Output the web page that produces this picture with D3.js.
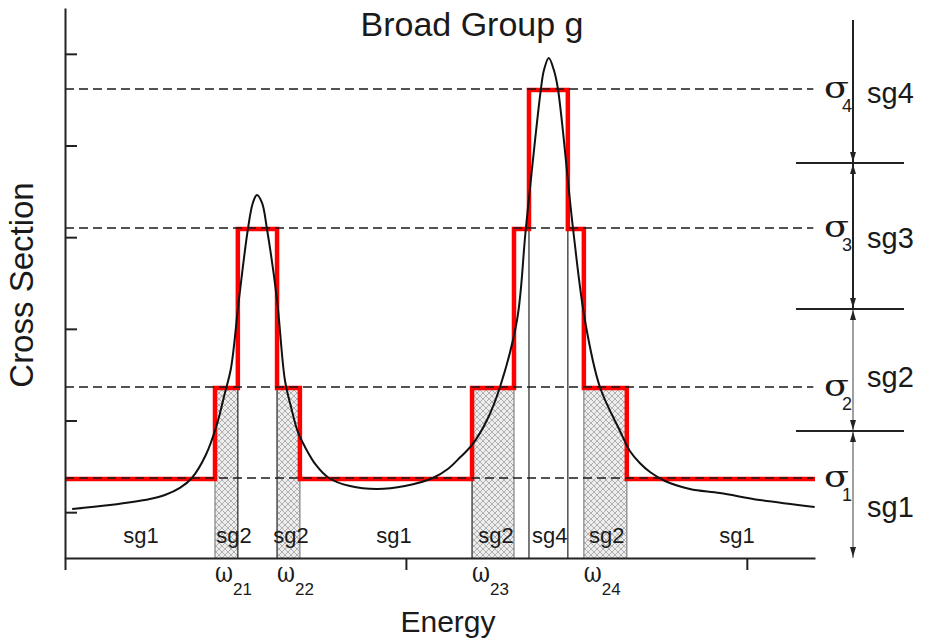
<!DOCTYPE html>
<html>
<head>
<meta charset="utf-8">
<script src="https://cdn.jsdelivr.net/npm/d3@7"></script>
<style>
  body { margin: 0; background: #fff; }
  text { font-family: "Liberation Sans", Arial, sans-serif; fill: #1a1a1a; }
  .greek { font-family: "DejaVu Serif", "Liberation Serif", serif; }
</style>
</head>
<body>
<div id="chart"></div>
<script>
// sub-group (resonance) picture inside one broad group

const width = 925, height = 642;

// axis ticks
const energyTicks = [0, 1, 2];
const sectionTicks = [0.5, 1.5, 2.5, 3.5, 4.5, 5.5];

// sub-group cross sections sigma1..sigma4
const sigmaNames = ["1", "2", "3", "4"];
const sigmaLevels = [0.873, 1.865, 3.6, 5.116];

// sub-group bounds on the right arrow
const subNames = ["sg1", "sg2", "sg3", "sg4"];
const subBounds = [0, 1.385, 2.716, 4.309, 5.869];
const subLabelY = [0.45, 1.865, 3.38, 4.96];

// step approximation (index into sigmaLevels for each interval)
const stepEdges = [0, 0.440, 0.507, 0.622, 0.689, 1.194, 1.317, 1.361, 1.475, 1.522, 1.648, 2.2];
const stepLevel = [0, 1, 2, 1, 0, 1, 2, 3, 2, 1, 0];

// hatched sg2 intervals, weights omega_2k
const omegaNames = ["21", "22", "23", "24"];
const omegaBins = [[0.440, 0.507], [0.622, 0.689], [1.194, 1.317], [1.522, 1.648]];

// labels under the curve
const binLabels = ["sg1", "sg2", "sg2", "sg1", "sg2", "sg4", "sg2", "sg1"];
const binLabelX = [0.223, 0.496, 0.663, 0.965, 1.264, 1.422, 1.589, 1.971];

// resonance cross section curve
const curveE = [0.021, 0.132, 0.249, 0.293, 0.337, 0.372, 0.413, 0.446, 0.469, 0.487, 0.510, 0.537,
  0.551, 0.563, 0.578, 0.592, 0.622, 0.645, 0.663, 0.683, 0.704, 0.736, 0.774, 0.836, 0.915, 0.997,
  1.079, 1.123, 1.160, 1.194, 1.238, 1.276, 1.326, 1.352, 1.396, 1.405, 1.419, 1.434, 1.446, 1.490,
  1.525, 1.569, 1.628, 1.657, 1.686, 1.716, 1.760, 1.833, 1.921, 2.038, 2.199];
const curveXS = [0.535, 0.578, 0.644, 0.687, 0.764, 0.873, 1.124, 1.462, 1.800, 2.073, 2.814, 3.600,
  3.873, 3.960, 3.873, 3.600, 2.814, 1.942, 1.647, 1.375, 1.211, 1.015, 0.873, 0.785, 0.753, 0.785,
  0.873, 0.971, 1.102, 1.233, 1.505, 1.865, 2.596, 3.600, 5.116, 5.323, 5.454, 5.323, 5.116, 3.600,
  2.596, 1.865, 1.386, 1.167, 1.036, 0.938, 0.840, 0.753, 0.709, 0.633, 0.556];

const svg = d3.select("#chart")
  .append("svg")
  .attr("width", width)
  .attr("height", height);

const xScale = d3.scaleLinear().domain([0, 2.2]).range([65, 815]);
const yScale = d3.scaleLinear().domain([0, 6]).range([558, 8]);

// hatch pattern
const pat = svg.append("defs").append("pattern")
  .attr("id", "hatch")
  .attr("patternUnits", "userSpaceOnUse")
  .attr("width", 6)
  .attr("height", 6);
pat.append("rect").attr("width", 6).attr("height", 6).attr("fill", "#ededed");
pat.append("path").attr("d", "M0,0L6,6M6,0L0,6M-1,5L1,7M5,-1L7,1")
  .attr("stroke", "#a9a9a9").attr("stroke-width", 0.9);

// hatched sg2 bins
svg.selectAll(".hatch")
  .data(omegaBins)
  .enter()
  .append("rect")
  .attr("class", "hatch")
  .attr("x", d => xScale(d[0]))
  .attr("width", d => xScale(d[1]) - xScale(d[0]))
  .attr("y", yScale(sigmaLevels[1]))
  .attr("height", yScale(0) - yScale(sigmaLevels[1]))
  .attr("fill", "url(#hatch)");

// thin interval boundaries
const inner = d3.range(1, stepEdges.length - 1);
svg.selectAll(".edge")
  .data(inner)
  .enter()
  .append("line")
  .attr("x1", i => xScale(stepEdges[i]))
  .attr("x2", i => xScale(stepEdges[i]))
  .attr("y1", yScale(0))
  .attr("y2", i => yScale(Math.min(sigmaLevels[stepLevel[i - 1]], sigmaLevels[stepLevel[i]])))
  .attr("stroke", i => (i === 2 || i === 3 || i === 5 || i === 7 || i === 8) ? "#333" : "#8a8a8a")
  .attr("stroke-width", 1.3);

// red step function
const stepPts = [];
stepLevel.forEach((lv, i) => {
  stepPts.push([stepEdges[i], sigmaLevels[lv]]);
  stepPts.push([stepEdges[i + 1], sigmaLevels[lv]]);
});
svg.append("path")
  .datum(stepPts)
  .attr("fill", "none")
  .attr("stroke", "#ff0000")
  .attr("stroke-width", 4.5)
  .attr("stroke-linejoin", "miter")
  .attr("d", d3.line().x(d => xScale(d[0])).y(d => yScale(d[1]) + 1));

// resonance curve
const curvePts = curveE.map((e, i) => [e, curveXS[i]]);
svg.append("path")
  .datum(curvePts)
  .attr("fill", "none")
  .attr("stroke", "#111")
  .attr("stroke-width", 2)
  .attr("d", d3.line().x(d => xScale(d[0])).y(d => yScale(d[1])).curve(d3.curveCatmullRom.alpha(0.5)));

// dashed sigma levels
svg.selectAll(".sig")
  .data(sigmaLevels)
  .enter()
  .append("line")
  .attr("x1", xScale(0))
  .attr("x2", xScale(2.195))
  .attr("y1", d => yScale(d))
  .attr("y2", d => yScale(d))
  .attr("stroke", "#1a1a1a")
  .attr("stroke-width", 1.6)
  .attr("stroke-dasharray", "9,5");

// axes
const yAxis = svg.append("g")
  .attr("transform", "translate(65,0)")
  .call(d3.axisLeft(yScale).tickValues(sectionTicks).tickSize(-12).tickSizeOuter(0).tickFormat(""));
const xAxis = svg.append("g")
  .attr("transform", "translate(0,558)")
  .call(d3.axisBottom(xScale).tickValues(energyTicks).tickSize(12).tickSizeOuter(0).tickFormat(""));
[yAxis, xAxis].forEach(g => {
  g.selectAll("path, line").attr("stroke", "#222").attr("stroke-width", 2);
});

// labels under the curve
svg.selectAll(".bin")
  .data(binLabels)
  .enter()
  .append("text")
  .attr("x", (d, i) => xScale(binLabelX[i]))
  .attr("y", 543)
  .attr("text-anchor", "middle")
  .attr("font-size", 22)
  .text(d => d);

// omega labels
omegaBins.forEach((b, i) => {
  const x0 = xScale(b[0]);
  svg.append("text")
    .attr("class", "greek")
    .attr("x", x0)
    .attr("y", 582)
    .attr("font-size", 27)
    .attr("textLength", 18)
    .attr("lengthAdjust", "spacingAndGlyphs")
    .text("ω");
  svg.append("text")
    .attr("x", x0 + 18)
    .attr("y", 595)
    .attr("font-size", 17)
    .text(omegaNames[i]);
});

// sigma labels at right end of dashed lines
sigmaLevels.forEach((s, i) => {
  const y = yScale(s);
  svg.append("text")
    .attr("class", "greek")
    .attr("x", 824)
    .attr("y", y + 9)
    .attr("font-size", 29)
    .attr("textLength", 25)
    .attr("lengthAdjust", "spacingAndGlyphs")
    .text("σ");
  svg.append("text")
    .attr("x", 842)
    .attr("y", y + 23)
    .attr("font-size", 18)
    .text(sigmaNames[i]);
});

// right side arrow with sub-group bounds
const ax = 853;
subNames.forEach((n, i) => {
  const y0 = yScale(subBounds[i]), y1 = yScale(subBounds[i + 1]);
  svg.append("line")
    .attr("x1", ax).attr("x2", ax)
    .attr("y1", y0).attr("y2", y1)
    .attr("stroke", i < 2 ? "#a0a0a0" : "#222")
    .attr("stroke-width", 2);
  // arrowhead pointing down at lower end
  svg.append("path")
    .attr("d", `M${ax - 3},${y0 - 11}L${ax + 3},${y0 - 11}L${ax},${y0 - 1}Z`)
    .attr("fill", "#222");
  // arrowhead pointing up at upper end (not at the very top)
  if (i < 3) {
    svg.append("path")
      .attr("d", `M${ax - 3},${y1 + 11}L${ax + 3},${y1 + 11}L${ax},${y1 + 1}Z`)
      .attr("fill", "#222");
  }
  svg.append("text")
    .attr("x", 867)
    .attr("y", yScale(subLabelY[i]))
    .attr("font-size", 29)
    .text(n);
});
svg.selectAll(".bound")
  .data(subBounds.slice(1, 4))
  .enter()
  .append("line")
  .attr("x1", 796).attr("x2", 904)
  .attr("y1", d => yScale(d)).attr("y2", d => yScale(d))
  .attr("stroke", "#222")
  .attr("stroke-width", 2);

// titles
svg.append("text")
  .attr("x", 472).attr("y", 36)
  .attr("text-anchor", "middle")
  .attr("font-size", 34)
  .text("Broad Group g");
svg.append("text")
  .attr("x", 448).attr("y", 632)
  .attr("text-anchor", "middle")
  .attr("font-size", 30)
  .text("Energy");
svg.append("text")
  .attr("transform", "translate(33,285) rotate(-90)")
  .attr("text-anchor", "middle")
  .attr("font-size", 33)
  .text("Cross Section");
</script>
</body>
</html>
